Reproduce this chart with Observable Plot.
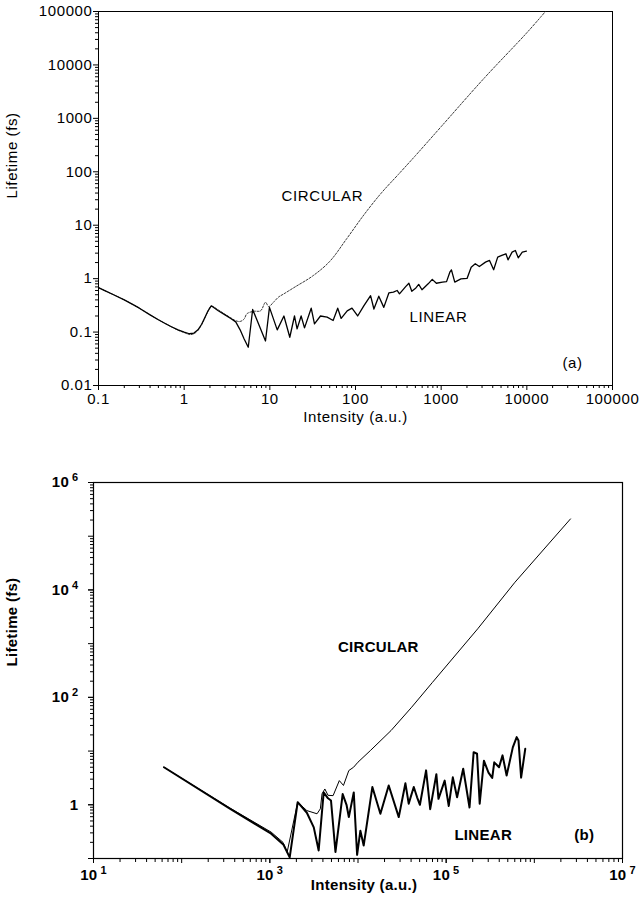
<!DOCTYPE html>
<html><head><meta charset="utf-8">
<script src="https://cdn.jsdelivr.net/npm/d3@7"></script>
<script src="https://cdn.jsdelivr.net/npm/@observablehq/plot@0.6"></script>
<style>
html,body{margin:0;padding:0;background:#fff;}
#wrap{position:relative;width:641px;height:902px;overflow:hidden;background:#fff;}
#a{position:absolute;left:0;top:0;}
#b{position:absolute;left:0;top:440px;}
</style></head><body><div id="wrap"><div id="a"></div><div id="b"></div></div>
<script>
// ---------- Panel (a) data ----------
const aLinearI = [0.1,0.12,0.15,0.2,0.25,0.3,0.4,0.5,0.6,0.7,0.85,1.0,1.15,1.3,1.45,1.6,1.75,1.9,2.07,2.5,3.0,3.5,4.0,4.5,5.0,5.6,6.3,8.9,9.9,12.2,14.6,17.1,19.4,20.8,23.2,25.4,30.4,33.2,39,46.7,54.8,62,68,80,91,106,125,150,164,187,214,245,277,306,326,385,420,454,507,547,597,705,787,879,1035,1156,1262,1318,1441,1700,2005,2240,2500,2790,3290,3670,4100,4570,5100,5700,6030,6730,7350,7940,8850,9890];
const aLinearL = [0.68,0.59,0.5,0.4,0.33,0.28,0.21,0.17,0.145,0.127,0.11,0.1,0.093,0.096,0.11,0.14,0.19,0.25,0.31,0.25,0.21,0.18,0.155,0.11,0.075,0.052,0.265,0.068,0.29,0.11,0.2,0.08,0.2,0.115,0.2,0.12,0.28,0.143,0.2,0.19,0.165,0.28,0.18,0.25,0.28,0.2,0.31,0.48,0.27,0.47,0.29,0.54,0.56,0.6,0.52,0.71,0.82,0.58,0.67,0.78,0.62,0.8,0.97,0.82,0.86,0.88,1.32,1.46,0.86,0.99,1.01,1.64,1.9,1.69,2.04,2.19,1.47,2.53,2.72,2.92,2.25,3.13,3.37,2.45,3.13,3.27];
const aCircularI = [0.1,0.12,0.15,0.2,0.25,0.3,0.4,0.5,0.6,0.7,0.85,1.0,1.15,1.3,1.45,1.6,1.75,1.9,2.07,2.5,3.0,3.5,4.0,4.5,5.0,5.4,6.5,7.8,8.9,9.7,11,12.6,14.6,20,31.6,50,79,126,200,316,500,1000,3160,10000,16500];
const aCircularL = [0.68,0.59,0.5,0.4,0.33,0.28,0.21,0.17,0.145,0.127,0.108,0.098,0.09,0.093,0.108,0.138,0.185,0.245,0.305,0.26,0.215,0.185,0.163,0.158,0.175,0.22,0.245,0.25,0.36,0.3,0.36,0.45,0.52,0.71,1.12,2.1,5.6,15.8,40,89,200,700,5600,40000,100000];
const aXTicks = [0.1,1,10,100,1000,10000,100000];
const aXLabels = ["0.1","1","10","100","1000","10000","100000"];
const aYTicks = [0.01,0.1,1,10,100,1000,10000,100000];
const aYLabels = ["0.01","0.1","1","10","100","1000","10000","100000"];
const aNoteText = ["CIRCULAR","LINEAR","(a)"];
const aNoteI = [41,930,34100];
const aNoteL = [35,0.19,0.026];

// ---------- Panel (b) data ----------
const bLinearI = [63,352,1035,1430,1680,2070,2630,3150,3580,4080,4570,4940,5550,6700,7410,7870,8950,9770,10640,11600,14550,17950,22300,29000,34500,37600,42900,46800,50400,59200,65900,77400,81800,96200,107000,119000,133000,156000,184000,205000,224000,240000,268000,302000,333000,351000,398000,436000,485000,570000,631000,661000,708000,789000];
const bLinearL = [5.0,0.85,0.29,0.18,0.105,1.12,0.71,0.38,0.141,1.7,1.32,1.2,0.132,1.58,1.0,0.59,1.7,0.117,0.33,0.174,2.14,0.68,2.29,0.59,2.51,1.05,2.14,1.38,1.0,4.37,0.83,3.72,1.29,2.82,0.95,3.24,1.38,4.68,0.89,9.55,8.91,1.05,6.61,3.98,3.16,6.17,5.01,8.32,3.5,11.7,18.2,15.8,3.2,11.0];
const bCircularI = [63,352,1035,1410,1570,2070,2630,3430,3740,3910,4210,4570,5220,6140,6840,7870,8910,9980,13800,23700,40600,69700,228000,603000,2570000];
const bCircularL = [5.0,0.87,0.31,0.2,0.13,1.12,0.78,0.68,0.84,1.6,1.97,1.5,1.48,2.82,2.29,4.34,5.0,6.2,10.2,24.1,65.5,189,1890,13900,210000];
const bXTicks = [10,1000,100000,10000000];
const bXLabels = ["10^1","10^3","10^5","10^7"];
const bYTicks = [1,100,10000,1000000];
const bYLabels = ["1","10^2","10^4","10^6"];
const bNoteText = ["CIRCULAR","LINEAR","(b)"];
const bNoteI = [17000,263000,3690000];
const bNoteL = [850,0.27,0.27];

// ---------- helpers ----------
function decadeTicks(lo, hi){ const o=[]; for(let e=lo;e<=hi;e++) o.push(+("1e"+e)); return o; }
function minorTicks(lo, hi){ const o=[]; for(let e=lo;e<hi;e++) for(let m=2;m<=9;m++) o.push(+(m+"e"+e)); return o; }
const table = (I, L) => I.map((v,i)=>({I:v, L:L[i]}));
const notes = (T, I, L) => T.map((t,i)=>({t, I:I[i], L:L[i]}));
const font = "'Liberation Sans', Arial, Helvetica, sans-serif";

function supers(svg){
  svg.querySelectorAll("text").forEach(t => {
    const s = t.textContent;
    if (s.includes("^")) {
      const [b, e] = s.split("^");
      t.textContent = b;
      const ts = document.createElementNS("http://www.w3.org/2000/svg","tspan");
      ts.setAttribute("dy","-6"); ts.setAttribute("dx","3"); ts.setAttribute("font-size","11");
      ts.textContent = e; t.appendChild(ts);
    }
  });
}

// ---------- Panel (a) ----------
const plotA = Plot.plot({
  width: 641, height: 440,
  marginLeft: 98, marginRight: 29, marginTop: 11, marginBottom: 55,
  style: {fontFamily: font, fontSize: "15px", letterSpacing: "0.6px", background: "#fff", color: "#000", overflow: "visible"},
  x: {type: "log", domain: [0.1, 1e5], label: null},
  y: {type: "log", domain: [0.01, 1e5], label: null},
  marks: [
    Plot.axisX({ticks: minorTicks(-1,5), tickSize: 3, tickFormat: () => "", label: null}),
    Plot.axisX({ticks: aXTicks, tickSize: 5, tickPadding: 3, tickFormat: d => aXLabels[aXTicks.indexOf(d)], fontSize: 15, label: null}),
    Plot.axisY({ticks: minorTicks(-2,5), tickSize: 3, tickFormat: () => "", label: null}),
    Plot.axisY({ticks: aYTicks, tickSize: 5, tickPadding: 1, tickFormat: d => aYLabels[aYTicks.indexOf(d)], fontSize: 15, label: null}),
    Plot.frame({stroke: "#000", strokeWidth: 1}),
    Plot.line(table(aCircularI, aCircularL), {x: "I", y: "L", stroke: "#222", strokeWidth: 0.9, strokeDasharray: "2,1.6", curve: "catmull-rom", clip: true}),
    Plot.line(table(aLinearI, aLinearL), {x: "I", y: "L", stroke: "#000", strokeWidth: 1.3, clip: true}),
    Plot.text(notes(aNoteText, aNoteI, aNoteL), {x: "I", y: "L", text: "t", fontSize: 15}),
    Plot.text(["Intensity (a.u.)"], {text: d => d, frameAnchor: "bottom", dy: 36, fontSize: 15}),
    Plot.text(["Lifetime (fs)"], {text: d => d, frameAnchor: "left", dx: -86, rotate: -90, fontSize: 15})
  ]
});
document.getElementById("a").appendChild(plotA);

// ---------- Panel (b) ----------
const plotB = Plot.plot({
  width: 641, height: 462,
  marginLeft: 93, marginRight: 19, marginTop: 42, marginBottom: 44,
  style: {fontFamily: font, fontSize: "15px", fontWeight: "bold", letterSpacing: "0.3px", background: "#fff", color: "#000", overflow: "visible"},
  x: {type: "log", domain: [10, 1e7], label: null},
  y: {type: "log", domain: [0.1, 1e6], label: null},
  marks: [
    Plot.axisX({ticks: minorTicks(1,7), tickSize: 4, tickFormat: () => "", label: null}),
    Plot.axisX({ticks: decadeTicks(1,7), tickSize: 5, tickFormat: () => "", label: null}),
    Plot.axisX({ticks: bXTicks, tickSize: 5, tickPadding: 6, tickFormat: d => bXLabels[bXTicks.indexOf(d)], fontSize: 15, fontWeight: "bold", label: null}),
    Plot.axisY({ticks: minorTicks(-1,6), tickSize: 3, tickFormat: () => "", label: null}),
    Plot.axisY({ticks: decadeTicks(-1,6), tickSize: 5, tickFormat: () => "", label: null}),
    Plot.axisY({ticks: bYTicks, tickSize: 5, tickPadding: 10, tickFormat: d => bYLabels[bYTicks.indexOf(d)], fontSize: 15, fontWeight: "bold", label: null}),
    Plot.frame({stroke: "#000", strokeWidth: 1.2}),
    Plot.line(table(bCircularI, bCircularL), {x: "I", y: "L", stroke: "#000", strokeWidth: 1, clip: true}),
    Plot.line(table(bLinearI, bLinearL), {x: "I", y: "L", stroke: "#000", strokeWidth: 2, clip: true}),
    Plot.text(notes(bNoteText, bNoteI, bNoteL), {x: "I", y: "L", text: "t", fontSize: 15, fontWeight: "bold"}),
    Plot.text(["Intensity (a.u.)"], {text: d => d, frameAnchor: "bottom", dx: 6, dy: 31, fontSize: 15, fontWeight: "bold"}),
    Plot.text(["Lifetime (fs)"], {text: d => d, frameAnchor: "left", dx: -81, dy: -4, rotate: -90, fontSize: 15, fontWeight: "bold"})
  ]
});
supers(plotB);
document.getElementById("b").appendChild(plotB);
</script>
</body></html>
